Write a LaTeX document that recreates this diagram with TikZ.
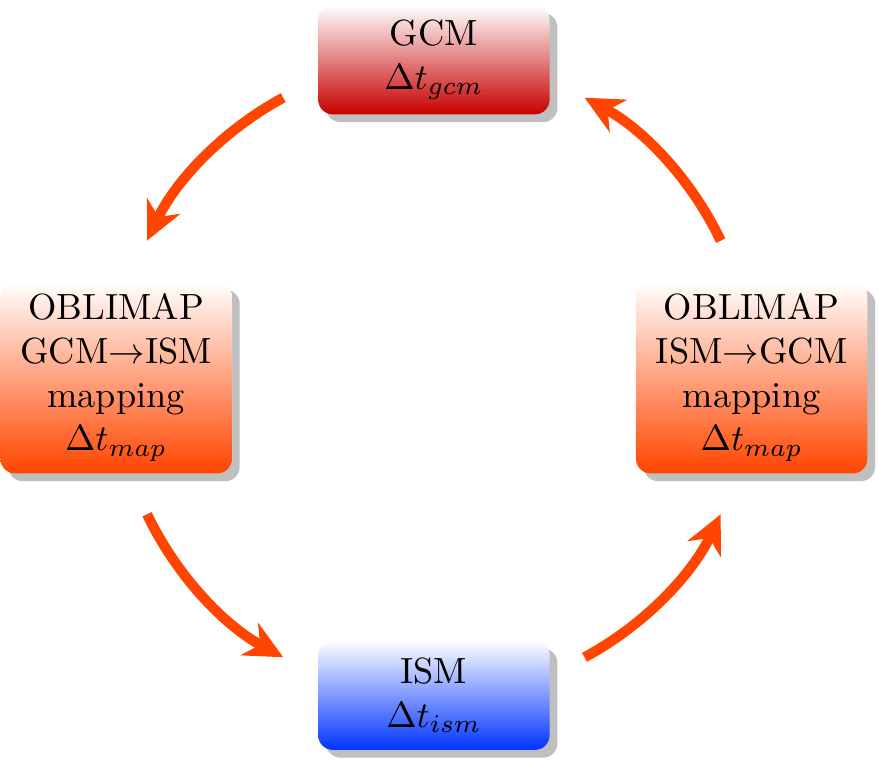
\documentclass[tikz,border=0pt]{standalone}
\usepackage{xcolor}
\usepackage{tikz}
\usetikzlibrary{arrows.meta, shadows}
\definecolor{gcmRed}{HTML}{C80000}
\definecolor{mapOrange}{HTML}{FF4500}
\definecolor{ismBlue}{HTML}{0033FF}
\definecolor{cycArrow}{HTML}{FF4500}

\begin{document}
\begin{tikzpicture}[
      box/.style={rectangle, rounded corners=4pt, text width=2cm, align=center,
                  minimum height=30pt, drop shadow, top color=white},
      boxgcm/.style={box, bottom color=gcmRed},
      boxmap/.style={box, bottom color=mapOrange},
      boxism/.style={box, bottom color=ismBlue},
      arr/.style={-{Stealth[length=10.5pt, width=10pt, inset=3.3pt]}, cycArrow, line width=2.8pt},
    ]

      \useasboundingbox (-119.2pt,-105.6pt) rectangle (122pt,103.7pt);

      % the four stages, on a circle
      \node[boxgcm] (gcm) at (90:87.3pt) {GCM\\$\Delta t_{gcm}$};
      \node[boxmap] (mapin) at (180:87.3pt) {OBLIMAP\\GCM$\rightarrow$ISM\\mapping\\$\Delta t_{map}$};
      \node[boxism] (ism) at (270:87.3pt) {ISM\\$\Delta t_{ism}$};
      \node[boxmap] (mapout) at (0:87.3pt) {OBLIMAP\\ISM$\rightarrow$GCM\\mapping\\$\Delta t_{map}$};

      % start points of the arcs
      \coordinate (gcmstart) at (118.3:87.3pt);
      \coordinate (mapinstart) at (205.5:87.3pt);
      \coordinate (ismstart) at (298.3:87.3pt);
      \coordinate (mapoutstart) at (25.5:87.3pt);

      % arrows
      \draw[arr] (gcmstart) arc[start angle=118.3, end angle=154.5, radius=87.3pt];
      \draw[arr] (mapinstart) arc[start angle=205.5, end angle=241.7, radius=87.3pt];
      \draw[arr] (ismstart) arc[start angle=298.3, end angle=334.5, radius=87.3pt];
      \draw[arr] (mapoutstart) arc[start angle=25.5, end angle=61.7, radius=87.3pt];

    \end{tikzpicture}
\end{document}
